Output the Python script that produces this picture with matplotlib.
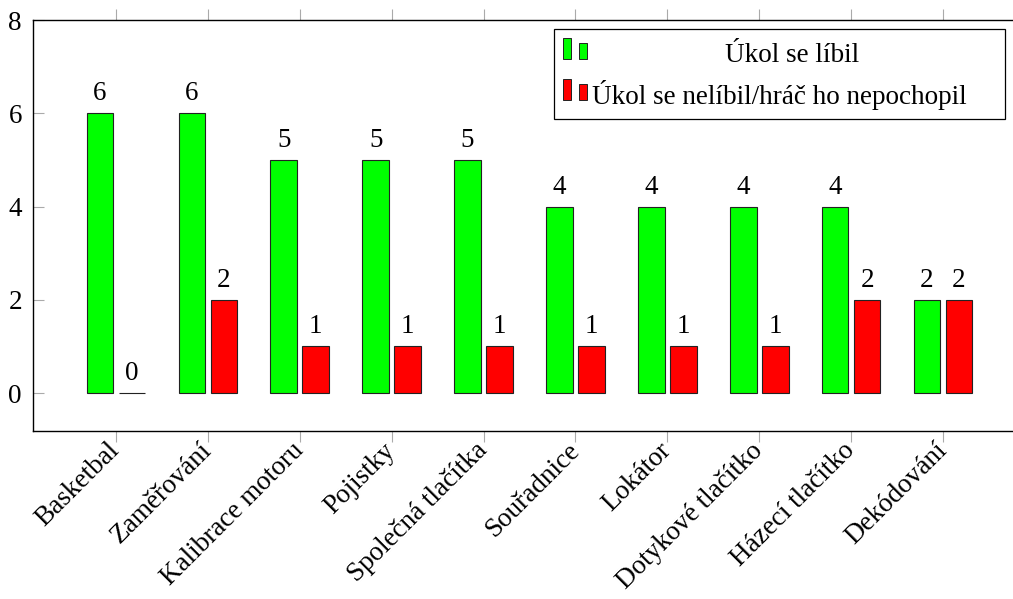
import numpy as np
import matplotlib
matplotlib.use("Agg")
import matplotlib.pyplot as plt
import matplotlib.transforms as mtransforms
from matplotlib.patches import Rectangle

plt.rcParams['font.family'] = ['Liberation Serif', 'DejaVu Serif']
plt.rcParams['font.size'] = 19.5

tasks = ['Basketbal', 'Zaměřování', 'Kalibrace motoru', 'Pojistky',
         'Společná tlačítka', 'Souřadnice', 'Lokátor', 'Dotykové tlačítko',
         'Házecí tlačítko', 'Dekódování']
liked = [6, 6, 5, 5, 5, 4, 4, 4, 4, 2]
disliked = [0, 2, 1, 1, 1, 1, 1, 1, 2, 2]
series_names = ['Úkol se líbil', 'Úkol se nelíbil/hráč ho nepochopil']

W, H = 1013, 599
fig = plt.figure(figsize=(W / 100, H / 100), dpi=100)
ax = fig.add_axes([33 / W, 168 / H, 993 / W, 411 / H])

x = np.arange(len(tasks))
bw, off = 0.29, 0.174
edge = dict(edgecolor='#222222', linewidth=0.8)
b1 = ax.bar(x - off, liked, bw, color='#00ff00', **edge)
b2 = ax.bar(x + off, disliked, bw, color='#ff0000', **edge)
ax.bar_label(b1, padding=5)
ax.bar_label(b2, padding=5)

ax.set_xlim(-0.9035, len(tasks) - 1 + 0.9035)
ax.set_ylim(-0.815, 8)
ax.set_yticks([0, 2, 4, 6, 8])
ax.set_xticks(x)
ax.set_xticklabels(tasks, rotation=45, ha='right', va='center',
                   rotation_mode='anchor')

ax.tick_params(axis='x', which='major', direction='out', length=8,
               width=0.8, color='#aaaaaa', top=True, bottom=True, pad=3.5)
ax.tick_params(axis='y', which='major', direction='in', length=8,
               width=0.8, color='#aaaaaa', left=True, right=False, pad=8)
for s in ax.spines.values():
    s.set_linewidth(1.0)
    s.set_color('black')

# legend drawn by hand in pixel coordinates (top-left origin)
px = mtransforms.Affine2D().scale(1, -1).translate(0, H)
fig.patches.append(Rectangle((554, 119), 451, -90, transform=px,
                             facecolor='white', edgecolor='black',
                             linewidth=0.9, zorder=5))
for row, col in enumerate(['#00ff00', '#ff0000']):
    base = 59 + row * 41
    for bx, hgt in [(563, 21), (579, 16)]:
        fig.patches.append(Rectangle((bx, base), 8, -hgt, transform=px,
                                     facecolor=col, edgecolor='#222222',
                                     linewidth=0.7, zorder=6))
fig.text(792, 56, series_names[0], transform=px, ha='center', va='center',
         zorder=7)
fig.text(592, 95, series_names[1], transform=px, ha='left', va='center',
         zorder=7)

fig.savefig('out.png', dpi=100)
